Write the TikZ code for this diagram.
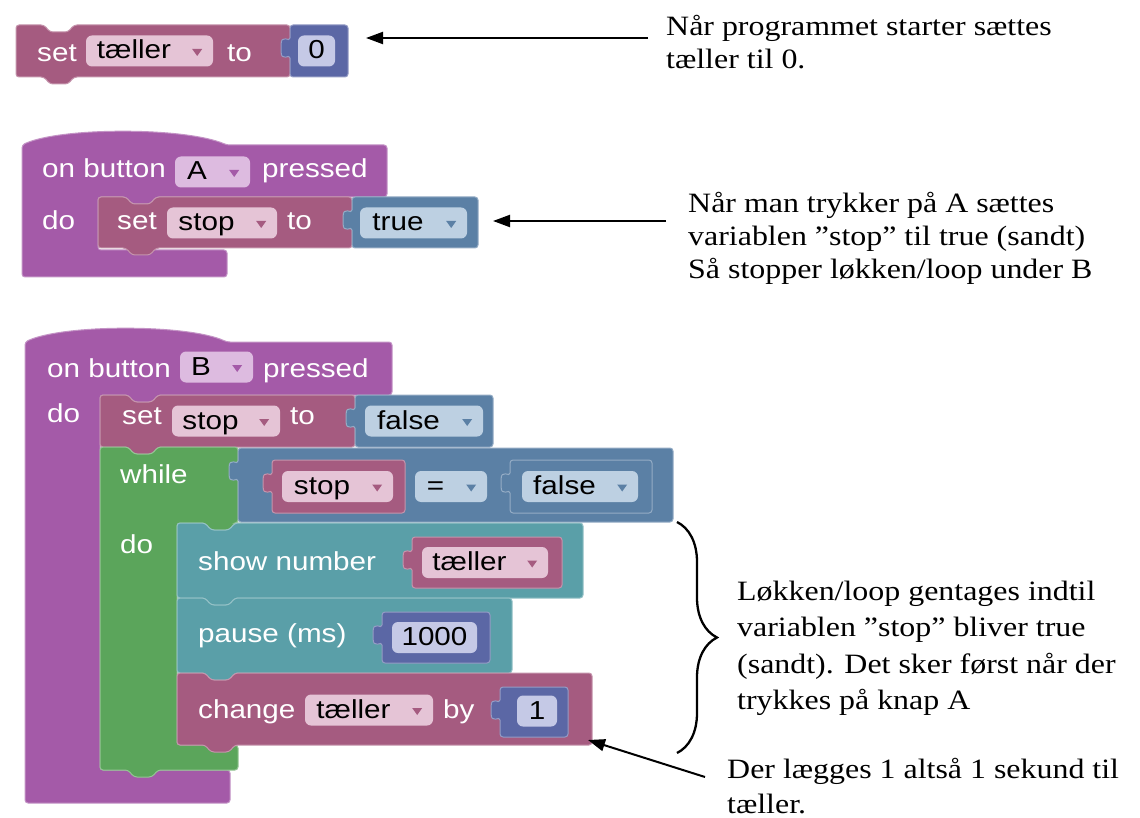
\documentclass[tikz,border=0pt]{standalone}
\usepackage{fontspec}
\newfontfamily\blkfont[FakeStretch=1.14]{Liberation Sans}
\newfontfamily\notefont[FakeStretch=1.14]{Liberation Serif}
\usetikzlibrary{arrows.meta,calc,decorations.pathreplacing}

\definecolor{evcol}{HTML}{A45AA8}
\definecolor{varcol}{HTML}{A55B80}
\definecolor{logcol}{HTML}{5B80A5}
\definecolor{mathcol}{HTML}{5B67A5}
\definecolor{loopcol}{HTML}{5BA55B}
\definecolor{basiccol}{HTML}{5A9FA8}
\definecolor{evlt}{HTML}{DDBBE0}
\definecolor{varlt}{HTML}{E5C4D6}
\definecolor{loglt}{HTML}{BDD0E2}
\definecolor{mathlt}{HTML}{C5C9E6}

% statement block: x0, y0, x1, y1, colour, name of bottom right corner
\newcommand{\stmt}[6]{%
  \filldraw[blk, fill=#5, draw=#5!65!white] (#1,#2) -- (#1+28,#2) -- (#1+34,#2+7)
    -- (#1+52,#2+7) -- (#1+58,#2) -- (#3,#2) -- (#3,#4) -- (#1+58,#4)
    -- (#1+52,#4+7) -- (#1+34,#4+7) -- (#1+28,#4) -- (#1,#4) -- cycle;
  \coordinate (#6) at (#3,#4);}
% value block with its tab on the left
\newcommand{\valblk}[6]{%
  \filldraw[blk, fill=#5, draw=#5!65!white] (#1,#2) -- (#3,#2) -- (#3,#4) -- (#1,#4)
    -- (#1,#2+36) .. controls (#1,#2+28) and (#1-9,#2+38) .. (#1-9,#2+23)
    .. controls (#1-9,#2+8) and (#1,#2+18) .. (#1,#2+10) -- cycle;
  \coordinate (#6) at (#3,{(#2+#4)/2});}
% little dropdown triangle in a field
\newcommand{\dropdn}[2]{\fill[#2] ($(#1.east)+(-21,-2)$) -- ++(10,0) -- ++(-5,7) -- cycle;}
\newcommand{\ddpad}{\rule{31pt}{0pt}}

\begin{document}
\begin{tikzpicture}[x=1pt, y=-1pt,
    blk/.style={rounded corners=3pt, line width=1pt},
    lbl/.style={font=\blkfont\fontsize{26}{26}\selectfont, text=white, anchor=west,
                inner sep=0pt, text height=21pt, text depth=5pt},
    fld/.style={font=\blkfont\fontsize{26}{26}\selectfont, text=black, rounded corners=6pt,
                inner sep=0pt, minimum height=31pt, text height=21pt, text depth=5pt},
    note/.style={font=\notefont\fontsize{28}{33}\selectfont, anchor=north west,
                 align=left, inner sep=0pt},
    pil/.style={line width=2pt, -{Triangle[length=17pt,width=12pt]}},
    brc/.style={decorate, decoration={brace, amplitude=40pt}, line width=2.3pt}]

  \useasboundingbox[fill=white] (0,0) rectangle (1140,818);

  % set tæller to 0
  \stmt{16}{25}{290}{77}{varcol}{s1}
  \node[lbl] (l1) at (37,54) {set};
  \node[fld, fill=varlt, minimum width=127pt] (f1) at (149.5,51) {tæller\ddpad};
  \dropdn{f1}{varcol}
  \node[lbl] (l2) at (227,54) {to};
  \valblk{290}{25}{348}{77}{mathcol}{v1}
  \node[fld, fill=mathlt, minimum width=37pt] (f2) at (316.5,51) {0};

  % on button A pressed
  \filldraw[blk, fill=evcol, draw=evcol!65!white] (22,145) .. controls (60,127) and (185,127) .. (227,145)
    -- (387,145) -- (387,197) -- (156,197) -- (150,204) -- (132,204) -- (126,197) -- (98,197)
    -- (98,250) -- (227,250) -- (227,277) -- (22,277) -- cycle;
  \node[lbl] (l3) at (42,170) {on button};
  \node[fld, fill=evlt, minimum width=75pt] (f3) at (212.5,172) {A\ddpad};
  \dropdn{f3}{evcol}
  \node[lbl] (l4) at (262,170) {pressed};
  \node[lbl] (l5) at (42,222) {do};
  \stmt{98}{197}{352}{248}{varcol}{s2}
  \node[lbl] (l6) at (117,222) {set};
  \node[fld, fill=varlt, minimum width=110pt] (f4) at (222,223) {stop\ddpad};
  \dropdn{f4}{varcol}
  \node[lbl] (l7) at (287,222) {to};
  \valblk{352}{197}{478}{248}{logcol}{v2}
  \node[fld, fill=loglt, minimum width=107pt] (f5) at (413.5,223) {true\ddpad};
  \dropdn{f5}{logcol}

  % on button B pressed
  \filldraw[blk, fill=evcol, draw=evcol!65!white] (25,342) .. controls (63,324) and (188,324) .. (227,342)
    -- (392,342) -- (392,395) -- (158,395) -- (152,402) -- (134,402) -- (128,395) -- (100,395)
    -- (100,770) -- (230,770) -- (230,803) -- (25,803) -- cycle;
  \node[lbl] (l8) at (47,369) {on button};
  \node[fld, fill=evlt, minimum width=73pt] (f6) at (216.5,367) {B\ddpad};
  \dropdn{f6}{evcol}
  \node[lbl] (l9) at (263,369) {pressed};
  \node[lbl] (l10) at (47,414) {do};
  \stmt{100}{395}{355}{447}{varcol}{s3}
  \node[lbl] (l11) at (122,416) {set};
  \node[fld, fill=varlt, minimum width=108pt] (f7) at (226,421) {stop\ddpad};
  \dropdn{f7}{varcol}
  \node[lbl] (l12) at (290,416) {to};
  \valblk{355}{395}{493}{447}{logcol}{v3}
  \node[fld, fill=loglt, minimum width=118pt] (f8) at (424,421) {false\ddpad};
  \dropdn{f8}{logcol}

  % while loop
  \filldraw[blk, fill=loopcol, draw=loopcol!65!white] (100,447) -- (128,447) -- (134,454) -- (152,454)
    -- (158,447) -- (238,447) -- (238,523) -- (235,523) -- (229,530) -- (211,530) -- (205,523)
    -- (177,523) -- (177,745) -- (238,745) -- (238,770) -- (158,770) -- (152,777) -- (134,777)
    -- (128,770) -- (100,770) -- cycle;
  \node[lbl] (l13) at (120,475) {while};
  \node[lbl] (l14) at (120,545) {do};
  \valblk{238}{448}{673}{522}{logcol}{v4}
  \valblk{272}{460}{405}{513}{varcol}{v5}
  \node[fld, fill=varlt, minimum width=111pt] (f9) at (337.5,486.5) {stop\ddpad};
  \dropdn{f9}{varcol}
  \node[fld, fill=loglt, minimum width=72pt] (f10) at (451,486.5) {=\ddpad};
  \dropdn{f10}{logcol}
  \valblk{510}{460}{652}{513}{logcol}{v6}
  \node[fld, fill=loglt, minimum width=116pt] (f11) at (580,486.5) {false\ddpad};
  \dropdn{f11}{logcol}

  % loop body
  \stmt{177}{523}{583}{598}{basiccol}{s4}
  \node[lbl] (l15) at (198,562) {show number};
  \valblk{412}{537}{562}{588}{varcol}{v7}
  \node[fld, fill=varlt, minimum width=126pt] (f12) at (485,562.5) {tæller\ddpad};
  \dropdn{f12}{varcol}
  \stmt{177}{598}{512}{673}{basiccol}{s5}
  \node[lbl] (l16) at (198,634) {pause (ms)};
  \valblk{382}{612}{490}{663}{mathcol}{v8}
  \node[fld, fill=mathlt, minimum width=85pt] (f13) at (434.5,637.5) {1000};
  \stmt{177}{673}{592}{745}{varcol}{s6}
  \node[lbl] (l17) at (198,710) {change};
  \node[fld, fill=varlt, minimum width=128pt] (f14) at (369,710) {tæller\ddpad};
  \dropdn{f14}{varcol}
  \node[lbl] (l18) at (443,710) {by};
  \valblk{500}{687}{568}{737}{mathcol}{v9}
  \node[fld, fill=mathlt, minimum width=40pt] (f15) at (537,711) {1};

  % notes
  \node[note] (n1) at (666,15.5) {Når programmet starter sættes\\tæller til 0.};
  \node[note] (n2) at (688,192.5) {Når man trykker på A sættes\\variablen ”stop” til true (sandt)\\Så stopper løkken/loop under B};
  \node[note, font=\notefont\fontsize{28}{36.5}\selectfont] (n3) at (737,580.5)
    {Løkken/loop gentages indtil\\variablen ”stop” bliver true\\(sandt). Det sker først når der\\trykkes på knap A};
  \node[note, font=\notefont\fontsize{28}{35}\selectfont] (n4) at (727,758.5) {Der lægges 1 altså 1 sekund til\\tæller.};

  \coordinate (p1) at ($(v1)+(18,-13)$);
  \coordinate (p2) at ($(v2)+(15,-1.5)$);
  \coordinate (p3) at ($(s6)+(-4,-5)$);
  \draw[pil] ($(n1.north west)+(-18,22.5)$) -- (p1);
  \draw[pil] ($(n2.north west)+(-22,28.5)$) -- (p2);
  \draw[pil] ($(n4.north west)+(-22,18.5)$) -- (p3);
  \draw[brc] (677,522) -- (677,753);
\end{tikzpicture}
\end{document}
